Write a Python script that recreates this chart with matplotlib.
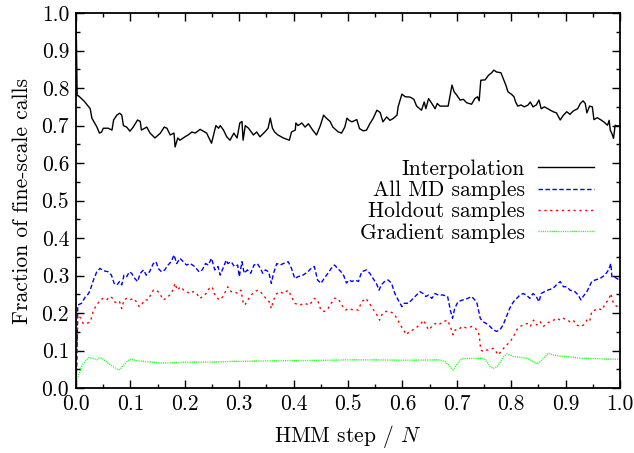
import matplotlib
matplotlib.use("Agg")
import matplotlib.pyplot as plt
from matplotlib.ticker import MultipleLocator, FormatStrFormatter

# (HMM step / N, fraction)
interp = [
    (0.0, 0.99), (0.002, 0.78), (0.004, 0.78), (0.015, 0.765), (0.026, 0.745), (0.029, 0.72), (0.038, 0.697), (0.043, 0.68), (0.047, 0.683), (0.05, 0.693),
    (0.059, 0.693), (0.066, 0.688), (0.069, 0.715), (0.075, 0.728), (0.08, 0.733), (0.084, 0.728), (0.087, 0.70), (0.093, 0.696), (0.099, 0.685), (0.105, 0.696),
    (0.113, 0.715), (0.118, 0.711), (0.12, 0.688), (0.13, 0.696), (0.136, 0.68), (0.145, 0.667), (0.155, 0.68), (0.162, 0.696), (0.167, 0.693), (0.173, 0.675),
    (0.18, 0.68), (0.182, 0.643), (0.187, 0.667), (0.191, 0.661), (0.2, 0.67), (0.206, 0.675), (0.213, 0.683), (0.219, 0.68), (0.228, 0.69), (0.24, 0.68),
    (0.249, 0.653), (0.257, 0.70), (0.262, 0.693), (0.265, 0.70), (0.271, 0.688), (0.277, 0.67), (0.283, 0.661), (0.29, 0.68), (0.296, 0.667), (0.301, 0.707),
    (0.305, 0.711), (0.307, 0.661), (0.311, 0.70), (0.317, 0.693), (0.326, 0.675), (0.332, 0.683), (0.338, 0.67), (0.347, 0.683), (0.353, 0.693), (0.357, 0.72),
    (0.361, 0.693), (0.365, 0.683), (0.371, 0.675), (0.381, 0.667), (0.392, 0.661), (0.396, 0.683), (0.403, 0.688), (0.404, 0.707), (0.408, 0.70), (0.415, 0.707),
    (0.421, 0.696), (0.427, 0.705), (0.435, 0.688), (0.442, 0.675), (0.449, 0.70), (0.455, 0.728), (0.46, 0.72), (0.467, 0.711), (0.472, 0.696), (0.482, 0.683),
    (0.488, 0.68), (0.494, 0.696), (0.498, 0.72), (0.502, 0.714), (0.507, 0.71), (0.516, 0.716), (0.521, 0.692), (0.528, 0.686), (0.534, 0.688), (0.54, 0.705),
    (0.546, 0.719), (0.553, 0.741), (0.559, 0.735), (0.564, 0.71), (0.571, 0.723), (0.577, 0.714), (0.583, 0.719), (0.59, 0.728), (0.592, 0.75), (0.599, 0.784),
    (0.605, 0.777), (0.614, 0.776), (0.621, 0.77), (0.626, 0.752), (0.635, 0.741), (0.64, 0.763), (0.643, 0.745), (0.648, 0.772), (0.654, 0.759), (0.66, 0.745),
    (0.664, 0.759), (0.669, 0.752), (0.684, 0.752), (0.691, 0.808), (0.695, 0.79), (0.70, 0.781), (0.706, 0.768), (0.712, 0.77), (0.718, 0.761), (0.727, 0.757),
    (0.733, 0.772), (0.738, 0.777), (0.741, 0.766), (0.744, 0.821), (0.752, 0.822), (0.758, 0.834), (0.764, 0.841), (0.768, 0.848), (0.773, 0.843), (0.781, 0.841),
    (0.785, 0.826), (0.79, 0.808), (0.794, 0.79), (0.80, 0.784), (0.805, 0.777), (0.808, 0.763), (0.812, 0.752), (0.818, 0.755), (0.824, 0.75), (0.831, 0.755),
    (0.835, 0.763), (0.84, 0.75), (0.846, 0.755), (0.851, 0.768), (0.855, 0.745), (0.861, 0.75), (0.867, 0.745), (0.877, 0.737), (0.883, 0.734), (0.89, 0.715),
    (0.896, 0.728), (0.902, 0.737), (0.908, 0.73), (0.914, 0.739), (0.922, 0.745), (0.927, 0.759), (0.932, 0.766), (0.936, 0.759), (0.939, 0.734), (0.944, 0.752),
    (0.949, 0.75), (0.952, 0.716), (0.958, 0.721), (0.964, 0.716), (0.97, 0.71), (0.977, 0.701), (0.98, 0.714), (0.982, 0.688), (0.985, 0.679), (0.988, 0.666),
    (0.991, 0.701), (0.995, 0.699), (1.0, 0.70),
]

all_md = [
    (0.0, 0.0), (0.002, 0.12), (0.003, 0.221), (0.01, 0.226), (0.017, 0.243), (0.023, 0.252), (0.027, 0.266), (0.032, 0.288), (0.038, 0.31), (0.044, 0.319),
    (0.05, 0.313), (0.059, 0.31), (0.065, 0.301), (0.07, 0.279), (0.075, 0.275), (0.08, 0.284), (0.084, 0.275), (0.088, 0.301), (0.093, 0.297), (0.098, 0.31),
    (0.102, 0.306), (0.108, 0.292), (0.113, 0.284), (0.118, 0.306), (0.124, 0.315), (0.129, 0.301), (0.135, 0.31), (0.142, 0.332), (0.147, 0.337), (0.151, 0.319),
    (0.157, 0.31), (0.163, 0.315), (0.169, 0.328), (0.175, 0.337), (0.18, 0.355), (0.185, 0.332), (0.191, 0.346), (0.197, 0.337), (0.203, 0.328), (0.21, 0.332),
    (0.218, 0.324), (0.226, 0.31), (0.232, 0.315), (0.238, 0.332), (0.243, 0.328), (0.249, 0.346), (0.255, 0.315), (0.261, 0.324), (0.265, 0.301), (0.27, 0.319),
    (0.276, 0.341), (0.279, 0.332), (0.285, 0.337), (0.291, 0.324), (0.297, 0.328), (0.30, 0.297), (0.305, 0.337), (0.309, 0.306), (0.315, 0.315), (0.321, 0.306),
    (0.327, 0.328), (0.333, 0.332), (0.339, 0.319), (0.343, 0.306), (0.348, 0.315), (0.354, 0.31), (0.359, 0.279), (0.363, 0.306), (0.369, 0.332), (0.375, 0.328),
    (0.381, 0.332), (0.39, 0.337), (0.396, 0.319), (0.402, 0.292), (0.408, 0.297), (0.417, 0.301), (0.426, 0.31), (0.432, 0.319), (0.438, 0.324), (0.444, 0.288),
    (0.45, 0.279), (0.456, 0.292), (0.463, 0.306), (0.469, 0.319), (0.475, 0.328), (0.481, 0.319), (0.487, 0.31), (0.492, 0.30), (0.497, 0.28), (0.502, 0.288),
    (0.507, 0.284), (0.513, 0.288), (0.519, 0.284), (0.525, 0.31), (0.534, 0.315), (0.54, 0.306), (0.546, 0.292), (0.552, 0.279), (0.557, 0.261), (0.561, 0.275),
    (0.567, 0.284), (0.574, 0.288), (0.58, 0.279), (0.586, 0.252), (0.592, 0.235), (0.599, 0.217), (0.603, 0.226), (0.611, 0.226), (0.617, 0.235), (0.626, 0.248),
    (0.632, 0.257), (0.638, 0.252), (0.643, 0.244), (0.648, 0.248), (0.654, 0.239), (0.66, 0.252), (0.666, 0.248), (0.675, 0.248), (0.683, 0.244), (0.688, 0.208),
    (0.692, 0.186), (0.696, 0.212), (0.702, 0.23), (0.711, 0.235), (0.72, 0.239), (0.727, 0.244), (0.733, 0.235), (0.737, 0.226), (0.743, 0.186), (0.748, 0.177),
    (0.754, 0.172), (0.761, 0.164), (0.767, 0.155), (0.773, 0.151), (0.779, 0.155), (0.785, 0.168), (0.791, 0.19), (0.797, 0.212), (0.804, 0.23), (0.81, 0.239),
    (0.816, 0.248), (0.822, 0.252), (0.828, 0.248), (0.834, 0.239), (0.84, 0.252), (0.846, 0.244), (0.851, 0.23), (0.855, 0.252), (0.861, 0.257), (0.867, 0.261),
    (0.877, 0.266), (0.883, 0.275), (0.89, 0.284), (0.896, 0.27), (0.902, 0.27), (0.908, 0.261), (0.917, 0.257), (0.923, 0.248), (0.928, 0.235), (0.932, 0.244),
    (0.939, 0.257), (0.945, 0.275), (0.948, 0.284), (0.954, 0.288), (0.963, 0.292), (0.972, 0.301), (0.979, 0.315), (0.983, 0.332), (0.985, 0.297), (0.989, 0.297),
    (0.994, 0.292), (1.0, 0.288),
]

holdout = [
    (0.0, 0.0), (0.002, 0.10), (0.003, 0.195), (0.006, 0.19), (0.009, 0.186), (0.013, 0.172), (0.02, 0.172), (0.026, 0.177), (0.029, 0.19), (0.032, 0.208),
    (0.038, 0.221), (0.044, 0.235), (0.05, 0.239), (0.056, 0.235), (0.062, 0.244), (0.068, 0.239), (0.071, 0.23), (0.075, 0.226), (0.08, 0.23), (0.084, 0.212),
    (0.088, 0.235), (0.093, 0.239), (0.099, 0.235), (0.105, 0.239), (0.111, 0.23), (0.116, 0.217), (0.12, 0.221), (0.126, 0.235), (0.132, 0.235), (0.137, 0.248),
    (0.142, 0.261), (0.148, 0.261), (0.154, 0.252), (0.16, 0.235), (0.166, 0.239), (0.172, 0.248), (0.178, 0.261), (0.182, 0.279), (0.186, 0.261), (0.192, 0.27),
    (0.198, 0.261), (0.203, 0.257), (0.209, 0.252), (0.215, 0.257), (0.222, 0.252), (0.227, 0.239), (0.233, 0.244), (0.239, 0.252), (0.245, 0.266), (0.25, 0.27),
    (0.254, 0.252), (0.26, 0.239), (0.264, 0.235), (0.27, 0.244), (0.276, 0.261), (0.279, 0.27), (0.285, 0.257), (0.291, 0.257), (0.297, 0.252), (0.303, 0.261),
    (0.307, 0.23), (0.31, 0.221), (0.316, 0.235), (0.322, 0.248), (0.328, 0.257), (0.334, 0.261), (0.339, 0.257), (0.344, 0.248), (0.351, 0.235), (0.355, 0.23),
    (0.359, 0.212), (0.363, 0.235), (0.369, 0.252), (0.375, 0.257), (0.381, 0.252), (0.39, 0.261), (0.396, 0.244), (0.402, 0.226), (0.411, 0.221), (0.42, 0.226),
    (0.429, 0.221), (0.438, 0.239), (0.444, 0.235), (0.45, 0.208), (0.456, 0.204), (0.463, 0.212), (0.469, 0.226), (0.475, 0.239), (0.481, 0.239), (0.487, 0.226),
    (0.491, 0.215), (0.496, 0.208), (0.50, 0.212), (0.51, 0.208), (0.519, 0.208), (0.525, 0.23), (0.533, 0.239), (0.539, 0.226), (0.547, 0.208), (0.553, 0.195),
    (0.558, 0.181), (0.562, 0.195), (0.568, 0.204), (0.577, 0.204), (0.583, 0.199), (0.59, 0.186), (0.596, 0.168), (0.602, 0.155), (0.607, 0.142), (0.613, 0.151),
    (0.619, 0.155), (0.628, 0.164), (0.634, 0.172), (0.639, 0.181), (0.643, 0.168), (0.648, 0.155), (0.654, 0.164), (0.66, 0.172), (0.666, 0.168), (0.675, 0.177),
    (0.683, 0.181), (0.688, 0.164), (0.693, 0.142), (0.697, 0.155), (0.703, 0.155), (0.709, 0.164), (0.718, 0.16), (0.727, 0.164), (0.734, 0.16), (0.74, 0.146),
    (0.742, 0.128), (0.744, 0.101), (0.749, 0.097), (0.755, 0.101), (0.761, 0.103), (0.767, 0.106), (0.772, 0.097), (0.776, 0.088), (0.781, 0.097), (0.786, 0.106),
    (0.792, 0.115), (0.798, 0.124), (0.804, 0.137), (0.81, 0.155), (0.816, 0.164), (0.822, 0.168), (0.829, 0.172), (0.835, 0.164), (0.841, 0.181), (0.847, 0.168),
    (0.853, 0.177), (0.859, 0.164), (0.865, 0.172), (0.871, 0.177), (0.878, 0.181), (0.884, 0.186), (0.89, 0.181), (0.896, 0.186), (0.902, 0.181), (0.908, 0.177),
    (0.914, 0.181), (0.92, 0.168), (0.927, 0.164), (0.933, 0.168), (0.939, 0.181), (0.944, 0.177), (0.948, 0.204), (0.954, 0.208), (0.96, 0.212), (0.967, 0.208),
    (0.973, 0.226), (0.979, 0.235), (0.983, 0.252), (0.987, 0.23), (0.991, 0.221), (1.0, 0.212),
]

gradient = [
    (0.0, 0.0), (0.001, 0.021), (0.006, 0.039), (0.01, 0.057), (0.016, 0.07), (0.023, 0.081), (0.032, 0.079), (0.038, 0.075), (0.044, 0.081), (0.05, 0.077),
    (0.059, 0.066), (0.068, 0.057), (0.078, 0.048), (0.081, 0.05), (0.087, 0.061), (0.093, 0.07), (0.099, 0.077), (0.111, 0.073), (0.13, 0.07), (0.154, 0.067),
    (0.173, 0.067), (0.203, 0.069), (0.246, 0.069), (0.289, 0.071), (0.338, 0.072), (0.399, 0.073), (0.461, 0.074), (0.497, 0.075), (0.547, 0.075), (0.608, 0.074),
    (0.669, 0.075), (0.678, 0.07), (0.685, 0.061), (0.693, 0.048), (0.699, 0.061), (0.706, 0.075), (0.712, 0.079), (0.73, 0.079), (0.749, 0.079), (0.755, 0.07),
    (0.761, 0.057), (0.767, 0.052), (0.774, 0.057), (0.78, 0.07), (0.786, 0.084), (0.792, 0.091), (0.798, 0.088), (0.804, 0.084), (0.816, 0.082), (0.829, 0.079),
    (0.841, 0.07), (0.847, 0.064), (0.853, 0.07), (0.862, 0.084), (0.868, 0.093), (0.878, 0.088), (0.89, 0.085), (0.914, 0.082), (0.927, 0.079), (0.951, 0.079),
    (0.976, 0.077), (1.0, 0.077),
]

series = [
    ("Interpolation", interp, "black", "-"),
    ("All MD samples", all_md, "#0000ff", (0, (3.2, 1.8))),
    ("Holdout samples", holdout, "#ff0000", (0, (1.6, 2.6))),
    ("Gradient samples", gradient, "#00ff00", (0, (0.7, 0.9))),
]

FS = 15.5

plt.rcParams["font.family"] = "cmr10"
plt.rcParams["mathtext.fontset"] = "cm"
plt.rcParams["axes.unicode_minus"] = False
plt.rcParams["axes.formatter.use_mathtext"] = True

fig = plt.figure(figsize=(6.34, 4.53), dpi=100)
ax = fig.add_axes([0.12, 0.1435, 0.858, 0.8275])

for label, pts, color, ls in series:
    xs, ys = zip(*pts)
    ax.plot(xs, ys, color=color, linestyle=ls, linewidth=1.0, label=label)

ax.set_xlim(0, 1)
ax.set_ylim(0, 1)
ax.xaxis.set_major_locator(MultipleLocator(0.1))
ax.xaxis.set_minor_locator(MultipleLocator(0.05))
ax.yaxis.set_major_locator(MultipleLocator(0.1))
ax.yaxis.set_minor_locator(MultipleLocator(0.05))
ax.xaxis.set_major_formatter(FormatStrFormatter("%.1f"))
ax.yaxis.set_major_formatter(FormatStrFormatter("%.1f"))
ax.tick_params(which="both", direction="in", top=True, right=True, labelsize=FS, width=1.0)
ax.tick_params(which="major", length=6, pad=5)
ax.tick_params(which="minor", length=3)
for sp in ax.spines.values():
    sp.set_linewidth(1.3)

ax.set_xlabel("HMM step / $N$", fontsize=FS, labelpad=6)
ax.set_ylabel("Fraction of fine-scale calls", fontsize=FS, labelpad=7)

ax.legend(loc="upper right", bbox_to_anchor=(0.952, 0.61), frameon=False,
          markerfirst=False, fontsize=FS, handlelength=2.6, handletextpad=0.6,
          labelspacing=0.08, borderpad=0, borderaxespad=0)

fig.savefig("out.png", dpi=100)
